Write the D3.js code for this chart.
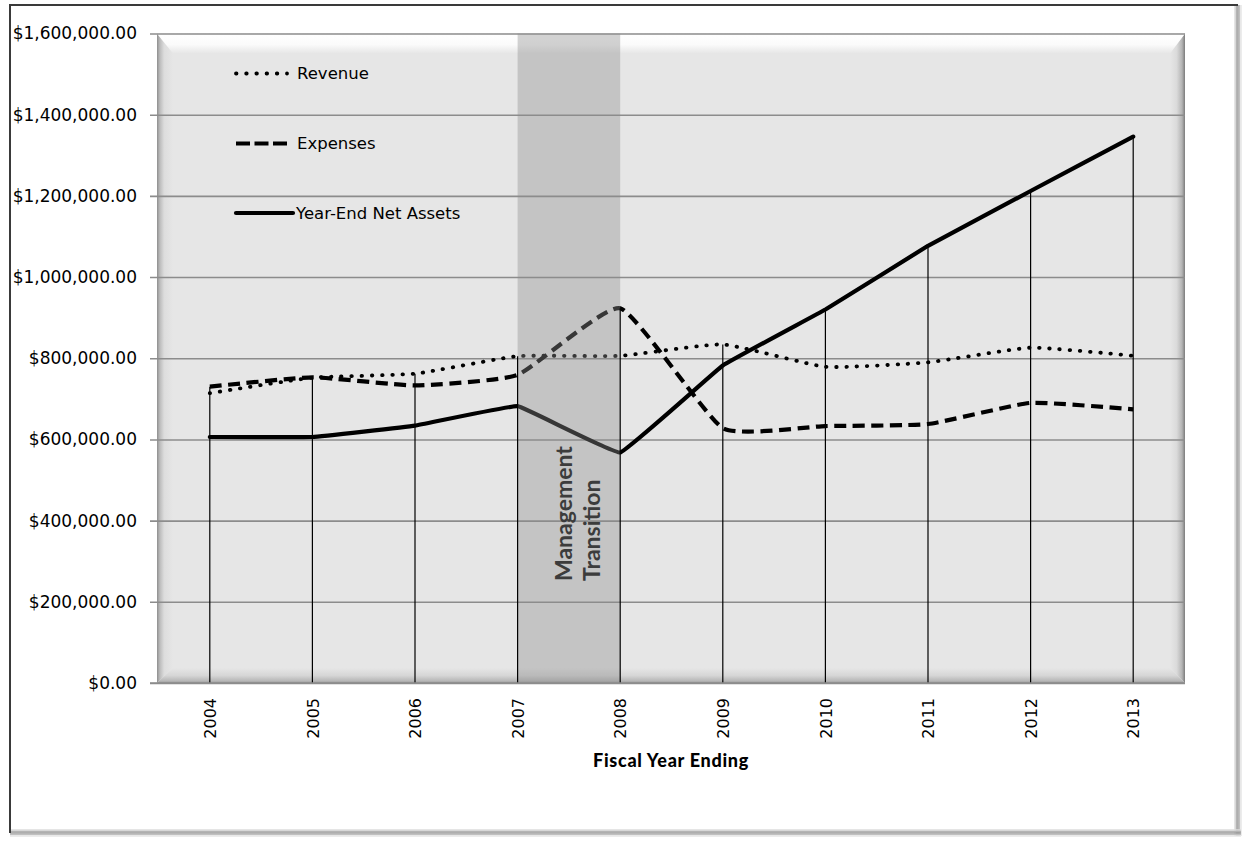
<!DOCTYPE html>
<html>
<head>
<meta charset="utf-8">
<script src="https://cdn.jsdelivr.net/npm/d3@7"></script>
<style>
html,body{margin:0;padding:0;background:#fff;}
svg{display:block;}
</style>
</head>
<body>
<svg id="chart" width="1247" height="842"></svg>
<script>
// ---- data ----
const years = ["2004","2005","2006","2007","2008","2009","2010","2011","2012","2013"];
const revenue = [714000, 752000, 762000, 805000, 806000, 834000, 779000, 790000, 826000, 806000];
const expenses = [730000, 753000, 733000, 759000, 923000, 628000, 633000, 638000, 690000, 674000];
const netAssets = [606000, 606000, 634000, 682000, 568000, 782000, 920000, 1077000, 1212000, 1346000];
const yTicks = [0, 200000, 400000, 600000, 800000, 1000000, 1200000, 1400000, 1600000];
const transition = ["2007", "2008"];
const seriesNames = ["Revenue", "Expenses", "Year-End Net Assets"];
const annotation = ["Management", "Transition"];
const xTitle = "Fiscal Year Ending";

// ---- layout ----
const svg = d3.select("#chart");
const L = 157, R = 1185, T = 33.5, B = 683;

const x = d3.scalePoint().domain(years).range([158.5, 1184.5]).padding(0.5);
const y = d3.scaleLinear().domain([0, 1600000]).range([B, T]);

const defs = svg.append("defs");
function lg(id, x1, y1, x2, y2, stops) {
  const g = defs.append("linearGradient").attr("id", id)
    .attr("x1", x1).attr("y1", y1).attr("x2", x2).attr("y2", y2);
  stops.forEach(s => g.append("stop").attr("offset", s[0]).attr("stop-color", s[1]));
}
lg("gTop", 0, 0, 0, 1, [[0, "#ffffff"], [0.55, "#fbfbfb"], [1, "#e6e6e6"]]);
lg("gLeft", 0, 0, 1, 0, [[0, "#8e8e8e"], [0.18, "#bcbcbc"], [0.45, "#dddddd"], [1, "#e6e6e6"]]);
lg("gRight", 0, 0, 1, 0, [[0, "#e6e6e6"], [0.45, "#dadada"], [0.8, "#b4b4b4"], [1, "#7c7c7c"]]);
lg("gBottom", 0, 0, 0, 1, [[0, "#e6e6e6"], [0.5, "#d6d6d6"], [0.85, "#b8b8b8"], [1, "#9a9a9a"]]);

// ---- outer frame ----
svg.append("rect").attr("x", 10).attr("y", 5).attr("width", 1228).attr("height", 828)
  .attr("fill", "#fff");
[["#dcdcdc", 1235], ["#b4b4b4", 1236.5], ["#9a9a9a", 1238], ["#c0c0c0", 1239.5], ["#e6e6e6", 1241]]
  .forEach(d => svg.append("line").attr("x1", d[1]).attr("x2", d[1]).attr("y1", 5).attr("y2", 836)
    .attr("stroke", d[0]).attr("stroke-width", 1.5));
[["#dcdcdc", 830], ["#b4b4b4", 831.5], ["#9a9a9a", 833], ["#c0c0c0", 834.5], ["#e6e6e6", 836]]
  .forEach(d => svg.append("line").attr("y1", d[1]).attr("y2", d[1]).attr("x1", 10).attr("x2", 1241)
    .attr("stroke", d[0]).attr("stroke-width", 1.5));
svg.append("line").attr("x1", 10).attr("x2", 10).attr("y1", 4.5).attr("y2", 833)
  .attr("stroke", "#3a3a3a").attr("stroke-width", 2);
svg.append("line").attr("x1", 9).attr("x2", 1238).attr("y1", 5).attr("y2", 5)
  .attr("stroke", "#3a3a3a").attr("stroke-width", 2);

// ---- plot area with bevel ----
const bw = 16, bt = 20, br = 15, bb = 15;
svg.append("rect").attr("x", L).attr("y", T).attr("width", R - L).attr("height", B - T).attr("fill", "#e6e6e6");
const poly = (pts, fill) => svg.append("polygon").attr("points", pts.map(p => p.join(",")).join(" ")).attr("fill", fill);
poly([[L, T], [L + bw, T + bt], [L + bw, B - bb], [L, B]], "url(#gLeft)");
poly([[R, T], [R, B], [R - br, B - bb], [R - br, T + bt]], "url(#gRight)");
poly([[L, B], [R, B], [R - br, B - bb], [L + bw, B - bb]], "url(#gBottom)");
poly([[L, T], [R, T], [R - br, T + bt], [L + bw, T + bt]], "url(#gTop)");

// ---- gridlines / y axis ----
const yAxis = d3.axisLeft(y).tickValues(yTicks)
  .tickSize(-(R - 150)).tickPadding(13)
  .tickFormat(d => "$" + d3.format(",.2f")(d));
const ga = svg.append("g").attr("transform", `translate(${150},0)`).call(yAxis);
ga.select(".domain").remove();
ga.selectAll(".tick line").attr("x1", 0).attr("x2", R - 150)
  .attr("stroke", "#8c8c8c").attr("stroke-width", 1.6);
ga.selectAll(".tick text").attr("x", -13).attr("fill", "#000")
  .style("font-family", "'DejaVu Sans', sans-serif").style("font-size", "17px");

// ---- x axis labels ----
const xAxis = d3.axisBottom(x).tickSize(0).tickPadding(0);
const gx = svg.append("g").attr("transform", `translate(0,${B})`).call(xAxis);
gx.select(".domain").remove();
gx.selectAll(".tick text")
  .attr("transform", "translate(0,15) rotate(-90)")
  .attr("text-anchor", "end").attr("x", 0).attr("y", 0).attr("dy", "0.36em")
  .attr("fill", "#000")
  .style("font-family", "'DejaVu Sans', sans-serif").style("font-size", "16px");

svg.append("text").attr("x", (L + R) / 2).attr("y", 767).attr("text-anchor", "middle")
  .style("font-family", "Lato, sans-serif").style("font-weight", "900").style("font-size", "18px")
  .style("letter-spacing", "0.7px")
  .text(xTitle);

// ---- lines ----
const series = [
  {name: seriesNames[0], values: revenue, dash: "0.5 9.7", width: 3.8, cap: "round"},
  {name: seriesNames[1], values: expenses, dash: "12 6.5", width: 4.2, cap: "butt"},
  {name: seriesNames[2], values: netAssets, dash: null, width: 4.2, cap: "round"}
];
const line = d3.line().x((d, i) => x(years[i])).y(d => y(d)).curve(d3.curveCardinal.tension(0.55));
const netLine = d3.line().x((d, i) => x(years[i])).y(d => y(d)).curve(d3.curveCardinal.tension(0.8));

series.forEach((s, k) => {
  svg.append("path").datum(s.values)
    .attr("d", k === 2 ? netLine : line)
    .attr("fill", "none").attr("stroke", "#000")
    .attr("stroke-width", s.width).attr("stroke-linecap", s.cap).attr("stroke-linejoin", "round")
    .attr("stroke-dasharray", s.dash);
});

// ---- transition band (translucent, over lines) ----
svg.append("rect").attr("x", x(transition[0])).attr("y", T)
  .attr("width", x(transition[1]) - x(transition[0])).attr("height", B - T)
  .attr("fill", "rgb(142,142,142)").attr("fill-opacity", 0.39);

// ---- drop lines ----
years.forEach((yr, i) => {
  const top = Math.max(revenue[i], expenses[i], netAssets[i]);
  svg.append("line").attr("x1", x(yr)).attr("x2", x(yr)).attr("y1", y(top)).attr("y2", B)
    .attr("stroke", "#000").attr("stroke-width", 1.2);
});

// x axis line
svg.append("line").attr("x1", 150).attr("x2", R).attr("y1", B).attr("y2", B)
  .attr("stroke", "#8c8c8c").attr("stroke-width", 1.6);

// ---- annotation ----
annotation.forEach((t, i) => {
  svg.append("text")
    .attr("transform", `translate(${571.5 + i * 28.5},581) rotate(-90)`)
    .attr("text-anchor", "start").attr("fill", "#3c3c3c")
    .style("font-family", "Lato, sans-serif").style("font-weight", "bold").style("font-size", "23px")
    .text(t);
});

// ---- legend ----
const legY = [73.5, 143.5, 213];
series.forEach((s, k) => {
  const g = svg.append("g");
  g.append("line").attr("x1", 236).attr("x2", k === 2 ? 293 : 287).attr("y1", legY[k]).attr("y2", legY[k])
    .attr("stroke", "#000").attr("stroke-width", s.width).attr("stroke-linecap", s.cap)
    .attr("stroke-dasharray", k === 1 ? "14 4.5" : s.dash);
  g.append("text").attr("x", k === 2 ? 296 : 297).attr("y", legY[k]).attr("dy", "0.36em")
    .style("font-family", "'DejaVu Sans', sans-serif").style("font-size", "16.5px")
    .text(s.name);
});
</script>
</body>
</html>
